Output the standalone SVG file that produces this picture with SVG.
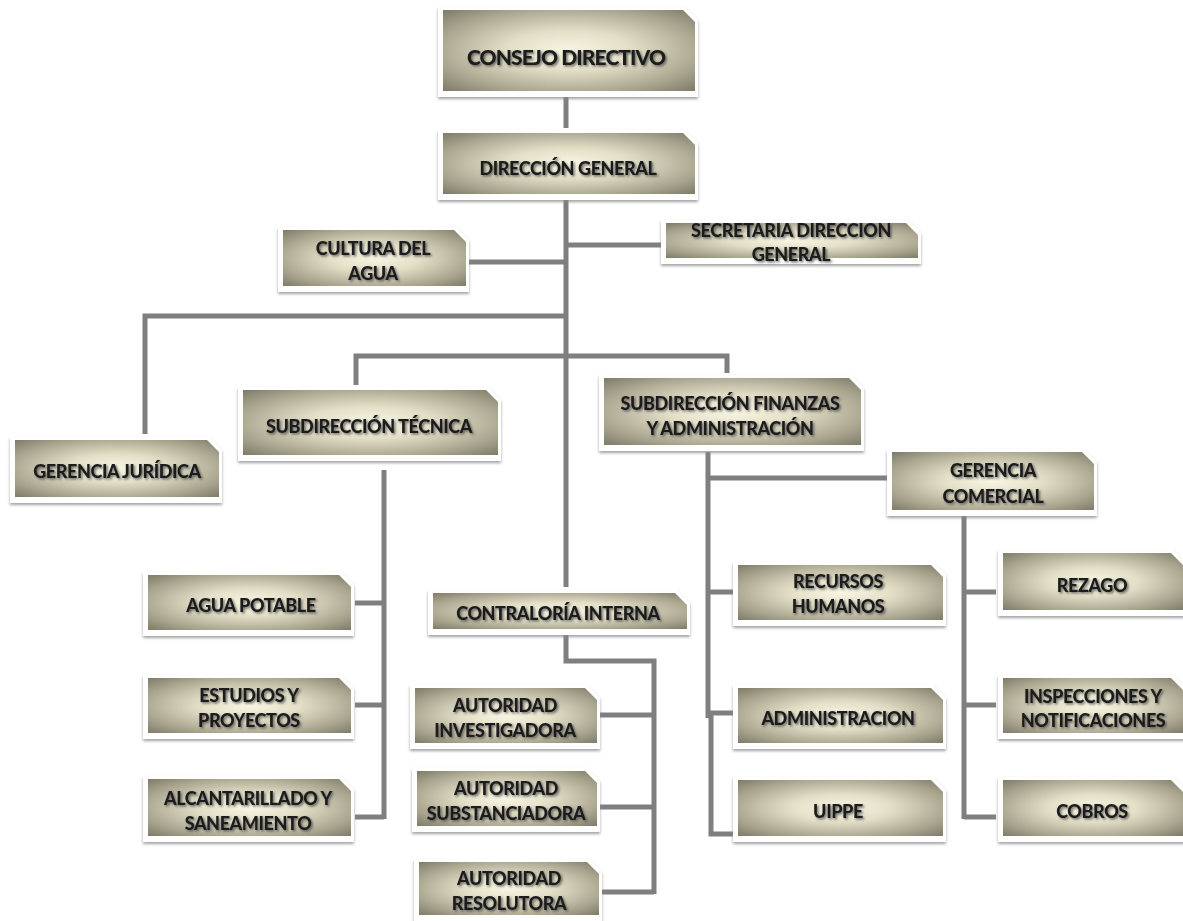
<svg xmlns="http://www.w3.org/2000/svg" width="1183" height="921" viewBox="0 0 1183 921">
<defs>
<radialGradient id="g" cx="0.5" cy="0.5" r="0.72">
<stop offset="0" stop-color="#f8f5e3"/>
<stop offset="0.35" stop-color="#e2dec6"/>
<stop offset="0.75" stop-color="#a6a28c"/>
<stop offset="1" stop-color="#7a7765"/>
</radialGradient>
<filter id="sh" x="-10%" y="-20%" width="120%" height="150%">
<feDropShadow dx="0" dy="2" stdDeviation="1.6" flood-color="#8a8a8a" flood-opacity="0.8"/>
</filter>
<filter id="ts" x="-10%" y="-30%" width="120%" height="160%">
<feDropShadow dx="1.5" dy="1.5" stdDeviation="1.1" flood-color="#4a4a4a" flood-opacity="0.8"/>
</filter>
</defs>
<style>
.frame{fill:#ffffff;filter:url(#sh)}
.box{fill:url(#g)}
.t{font-family:Lato,"Open Sans","Liberation Sans",sans-serif;font-weight:900;font-size:18px;fill:#1a1a1a;text-anchor:middle;letter-spacing:-0.4px;filter:url(#ts)}
.big{font-size:21px;letter-spacing:-0.9px}
.c{fill:none;stroke:#7f7f7f;stroke-width:5;stroke-linecap:butt;stroke-linejoin:miter}
</style>
<rect width="1183" height="921" fill="#ffffff"/>
<g id="connectors">
<path class="c" d="M566 97 V128"/>
<path class="c" d="M566 200 V587"/>
<path class="c" d="M566 245 H661"/>
<path class="c" d="M469 262 H566"/>
<path class="c" d="M566 316 H145 V434"/>
<path class="c" d="M356 385 V356 H727 V373"/>
<path class="c" d="M384 470 V819"/>
<path class="c" d="M355 603 H384"/>
<path class="c" d="M355 705 H384"/>
<path class="c" d="M355 817 H384"/>
<path class="c" d="M566 635 V661 H654 V894"/>
<path class="c" d="M600 715 H654"/>
<path class="c" d="M600 807 H654"/>
<path class="c" d="M602 892 H654"/>
<path class="c" d="M708 452 V718"/>
<path class="c" d="M708 478 H887"/>
<path class="c" d="M708 592 H734"/>
<path class="c" d="M708 713 H734"/>
<path class="c" d="M711 713 V834 H734"/>
<path class="c" d="M964 516 V819"/>
<path class="c" d="M964 592 H996"/>
<path class="c" d="M964 705 H996"/>
<path class="c" d="M964 817 H996"/>
</g>
<g id="consejo">
<path class="frame" d="M438 7 H685 L698 20 V97 H438Z"/>
<path class="box" d="M443 10 H683 L695 22 V91 H443Z"/>
<text class="t big" x="566" y="65">CONSEJO DIRECTIVO</text>
</g>
<g id="direccion">
<path class="frame" d="M438 130 H685 L698 143 V200 H438Z"/>
<path class="box" d="M443 133 H683 L695 145 V194 H443Z"/>
<text class="t" x="568" y="175">DIRECCIÓN GENERAL</text>
</g>
<g id="secretaria">
<path class="frame" d="M661 220 H908 L921 233 V264 H661Z"/>
<path class="box" d="M666 223 H906 L918 235 V258 H666Z"/>
<text class="t" x="791" y="237">SECRETARIA DIRECCION</text>
<text class="t" x="791" y="261">GENERAL</text>
</g>
<g id="cultura">
<path class="frame" d="M278 227 H456 L469 240 V292 H278Z"/>
<path class="box" d="M283 230 H454 L466 242 V286 H283Z"/>
<text class="t" x="373" y="255">CULTURA DEL</text>
<text class="t" x="373" y="280">AGUA</text>
</g>
<g id="juridica">
<path class="frame" d="M10 437 H209 L222 450 V503 H10Z"/>
<path class="box" d="M15 440 H207 L219 452 V497 H15Z"/>
<text class="t" x="117" y="478">GERENCIA JURÍDICA</text>
</g>
<g id="tecnica">
<path class="frame" d="M238 387 H488 L501 400 V461 H238Z"/>
<path class="box" d="M243 390 H486 L498 402 V455 H243Z"/>
<text class="t" x="369" y="433">SUBDIRECCIÓN TÉCNICA</text>
</g>
<g id="finanzas">
<path class="frame" d="M599 375 H851 L864 388 V451 H599Z"/>
<path class="box" d="M604 378 H849 L861 390 V445 H604Z"/>
<text class="t" x="730" y="410">SUBDIRECCIÓN FINANZAS</text>
<text class="t" x="730" y="435">Y ADMINISTRACIÓN</text>
</g>
<g id="comercial">
<path class="frame" d="M887 449 H1084 L1097 462 V516 H887Z"/>
<path class="box" d="M892 452 H1082 L1094 464 V510 H892Z"/>
<text class="t" x="993" y="477">GERENCIA</text>
<text class="t" x="993" y="503">COMERCIAL</text>
</g>
<g id="agua-potable">
<path class="frame" d="M143 572 H341 L354 585 V636 H143Z"/>
<path class="box" d="M148 575 H339 L351 587 V630 H148Z"/>
<text class="t" x="251" y="612">AGUA POTABLE</text>
</g>
<g id="estudios">
<path class="frame" d="M143 675 H341 L354 688 V739 H143Z"/>
<path class="box" d="M148 678 H339 L351 690 V733 H148Z"/>
<text class="t" x="249" y="702">ESTUDIOS Y</text>
<text class="t" x="249" y="727">PROYECTOS</text>
</g>
<g id="alcantarillado">
<path class="frame" d="M143 776 H341 L354 789 V842 H143Z"/>
<path class="box" d="M148 779 H339 L351 791 V836 H148Z"/>
<text class="t" x="248" y="805">ALCANTARILLADO Y</text>
<text class="t" x="248" y="830">SANEAMIENTO</text>
</g>
<g id="contraloria">
<path class="frame" d="M428 590 H677 L690 603 V635 H428Z"/>
<path class="box" d="M433 593 H675 L687 605 V629 H433Z"/>
<text class="t" x="558" y="620">CONTRALORÍA INTERNA</text>
</g>
<g id="investigadora">
<path class="frame" d="M410 685 H587 L600 698 V749 H410Z"/>
<path class="box" d="M415 688 H585 L597 700 V743 H415Z"/>
<text class="t" x="505" y="712">AUTORIDAD</text>
<text class="t" x="505" y="737">INVESTIGADORA</text>
</g>
<g id="substanciadora">
<path class="frame" d="M412 768 H587 L600 781 V832 H412Z"/>
<path class="box" d="M417 771 H585 L597 783 V826 H417Z"/>
<text class="t" x="506" y="795">AUTORIDAD</text>
<text class="t" x="506" y="820">SUBSTANCIADORA</text>
</g>
<g id="resolutora">
<path class="frame" d="M414 859 H589 L602 872 V921 H414Z"/>
<path class="box" d="M419 862 H587 L599 874 V915 H419Z"/>
<text class="t" x="509" y="885">AUTORIDAD</text>
<text class="t" x="509" y="910">RESOLUTORA</text>
</g>
<g id="recursos">
<path class="frame" d="M733 562 H933 L946 575 V626 H733Z"/>
<path class="box" d="M738 565 H931 L943 577 V620 H738Z"/>
<text class="t" x="838" y="588">RECURSOS</text>
<text class="t" x="838" y="613">HUMANOS</text>
</g>
<g id="administracion">
<path class="frame" d="M733 685 H933 L946 698 V749 H733Z"/>
<path class="box" d="M738 688 H931 L943 700 V743 H738Z"/>
<text class="t" x="838" y="725">ADMINISTRACION</text>
</g>
<g id="uippe">
<path class="frame" d="M733 777 H933 L946 790 V842 H733Z"/>
<path class="box" d="M738 780 H931 L943 792 V836 H738Z"/>
<text class="t" x="838" y="818">UIPPE</text>
</g>
<g id="rezago">
<path class="frame" d="M998 550 H1173 L1186 563 V616 H998Z"/>
<path class="box" d="M1003 553 H1171 L1183 565 V610 H1003Z"/>
<text class="t" x="1092" y="592">REZAGO</text>
</g>
<g id="inspecciones">
<path class="frame" d="M998 675 H1173 L1186 688 V739 H998Z"/>
<path class="box" d="M1003 678 H1171 L1183 690 V733 H1003Z"/>
<text class="t" x="1093" y="703">INSPECCIONES Y</text>
<text class="t" x="1093" y="727">NOTIFICACIONES</text>
</g>
<g id="cobros">
<path class="frame" d="M998 777 H1173 L1186 790 V842 H998Z"/>
<path class="box" d="M1003 780 H1171 L1183 792 V836 H1003Z"/>
<text class="t" x="1092" y="818">COBROS</text>
</g>
</svg>
